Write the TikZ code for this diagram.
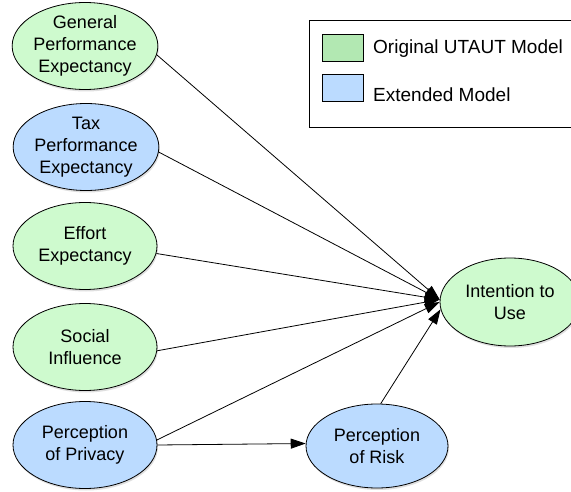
\documentclass[tikz,border=0pt]{standalone}
\usepackage{fontspec}
\setmainfont{Liberation Sans}
\usetikzlibrary{shapes.geometric,arrows.meta,shadows}
\definecolor{origgreen}{RGB}{206,250,206}
\definecolor{extblue}{RGB}{187,219,255}
\definecolor{keygreen}{RGB}{178,232,178}
\definecolor{keyblue}{RGB}{187,219,255}
\begin{document}
\begin{tikzpicture}[x=1pt,y=-1pt,
  construct/.style={ellipse, draw=black, line width=0.8pt, inner sep=0pt,
    minimum width=144pt, minimum height=87pt, align=center,
    font=\fontsize{18}{21.7}\selectfont,
    drop shadow={shadow xshift=1pt, shadow yshift=-2pt, opacity=0.25}},
  orig/.style={construct, fill=origgreen},
  ext/.style={construct, fill=extblue},
  link/.style={draw=black, line width=0.8pt, -{Triangle[length=15pt,width=10pt]}},
  swatch/.style={draw=black, line width=0.8pt, minimum width=41pt, minimum height=27pt, inner sep=0pt},
  keytext/.style={anchor=west, inner sep=0pt, font=\fontsize{19}{22}\selectfont}
]
\useasboundingbox (0,0) rectangle (571,492);
\fill[white] (0,0) rectangle (571,492);

% legend
\draw[line width=0.8pt] (309,20) rectangle (590,127);
\node[swatch, fill=keygreen] (kg) at (342.5,47.5) {};
\node[swatch, fill=keyblue] (kb) at (342.5,88) {};
\node[keytext] (kgt) at (373,49) {Original UTAUT Model};
\node[keytext] (kbt) at (373,95) {Extended Model};

% constructs
\node[orig] (gpe) at (85,46) {General\\Performance\\Expectancy};
\node[ext]  (tpe) at (86,147) {Tax\\Performance\\Expectancy};
\node[orig] (ee)  at (85,246) {Effort\\Expectancy};
\node[orig] (si)  at (85,347) {Social\\Influence};
\node[ext]  (pp)  at (85,445) {Perception\\of Privacy};
\node[ext, minimum width=142pt, minimum height=84pt] (pr) at (377,446) {Perception\\of Risk};
\node[orig, minimum width=140pt, minimum height=88pt] (itu) at (510,302) {Intention to\\Use};

% paths
\draw[link] (gpe.-7) -- (itu.178);
\draw[link] (tpe.-4) -- (itu.178);
\draw[link] (ee.-6) -- (itu.178);
\draw[link] (si.-3) -- (itu.178);
\draw[link] (pp.4) -- (itu.180);
\draw[link] (pp.0) -- (pr.178);
\draw[link] (pr.85) -- (itu.186);
\end{tikzpicture}
\end{document}
